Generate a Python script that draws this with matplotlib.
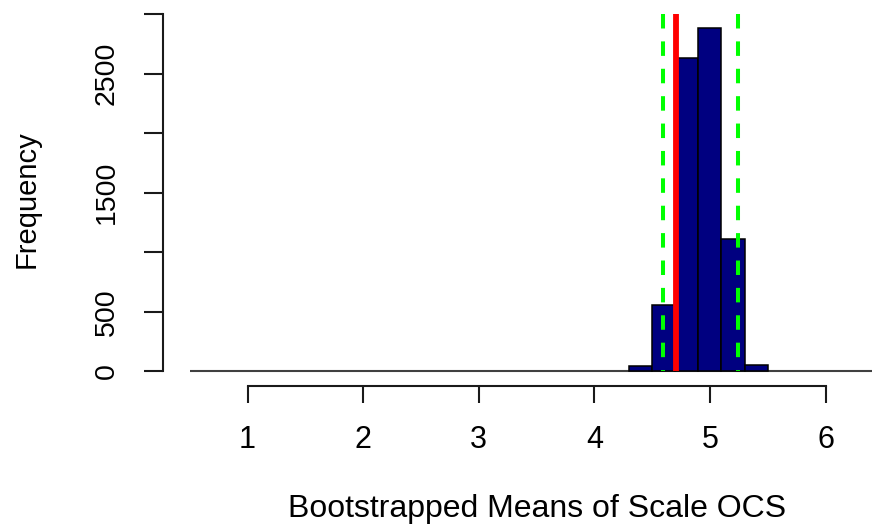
import matplotlib
matplotlib.use('Agg')  # Use a non-interactive backend

import matplotlib.pyplot as plt

# bootstrap histogram (bins of 0.2)
bin_edges = [4.3, 4.5, 4.7, 4.9, 5.1, 5.3, 5.5]
counts = [45, 560, 2633, 2885, 1112, 53]
observed_mean = 4.709
ci_lower = 4.597
ci_upper = 5.240
x_ticks = [1, 2, 3, 4, 5, 6]
y_ticks = [0, 500, 1000, 1500, 2000, 2500, 3000]
y_tick_labels = ["0", "500", "", "1500", "", "2500", ""]

plt.rcParams['font.family'] = ['Liberation Sans', 'DejaVu Sans']
ink = "#1a1a1a"

fig = plt.figure(figsize=(8.72, 5.25), dpi=100)
ax = fig.add_axes([0.1866, 0.26476, 0.8134, 0.70857])

widths = [b - a for a, b in zip(bin_edges[:-1], bin_edges[1:])]
ax.bar(bin_edges[:-1], counts, width=widths, align="edge",
       color="#000080", edgecolor="black", linewidth=1.1, zorder=2)

# baseline
ax.plot([0.5, 6.5], [0, 0], color="#404040", linewidth=1.5, zorder=1,
        solid_capstyle="butt")

# confidence interval and observed mean
for x in (ci_lower, ci_upper):
    ax.plot([x, x], [3000, 0], color="#00ff00", linewidth=2.9,
            dashes=(3.6, 3.2), zorder=3)
ax.plot([observed_mean, observed_mean], [0, 3000], color="#ff0000",
        linewidth=4.2, solid_capstyle="butt", zorder=4)

ax.set_xlim(0.2664, 6.402)
ax.set_ylim(-121.7, 3000)

for side in ("top", "right"):
    ax.spines[side].set_visible(False)
ax.spines["left"].set_bounds(0, 3000)
ax.spines["bottom"].set_bounds(1, 6)
for side in ("left", "bottom"):
    ax.spines[side].set_linewidth(1.5)
    ax.spines[side].set_color(ink)

ax.set_xticks(x_ticks)
ax.set_xticklabels([str(t) for t in x_ticks], fontsize=22, color="black")
ax.set_yticks(y_ticks)
ax.set_yticklabels(y_tick_labels, fontsize=20.5, color="black", rotation=90,
                   rotation_mode="anchor", ha="center", va="baseline")
ax.tick_params(axis="x", length=12, width=1.5, color=ink, pad=16)
ax.tick_params(axis="y", length=13.5, width=1.5, color=ink, pad=21.5)

fig.text(537 / 872, 1 - 517.3 / 525, "Bootstrapped Means of Scale OCS",
         fontsize=23, color="black", ha="center", va="baseline")
fig.text(35 / 872, 1 - 198.9 / 525, "Frequency", fontsize=21, color="black",
         rotation=90, rotation_mode="anchor", ha="center", va="baseline")

plt.savefig("out.png", dpi=100)
plt.close()
